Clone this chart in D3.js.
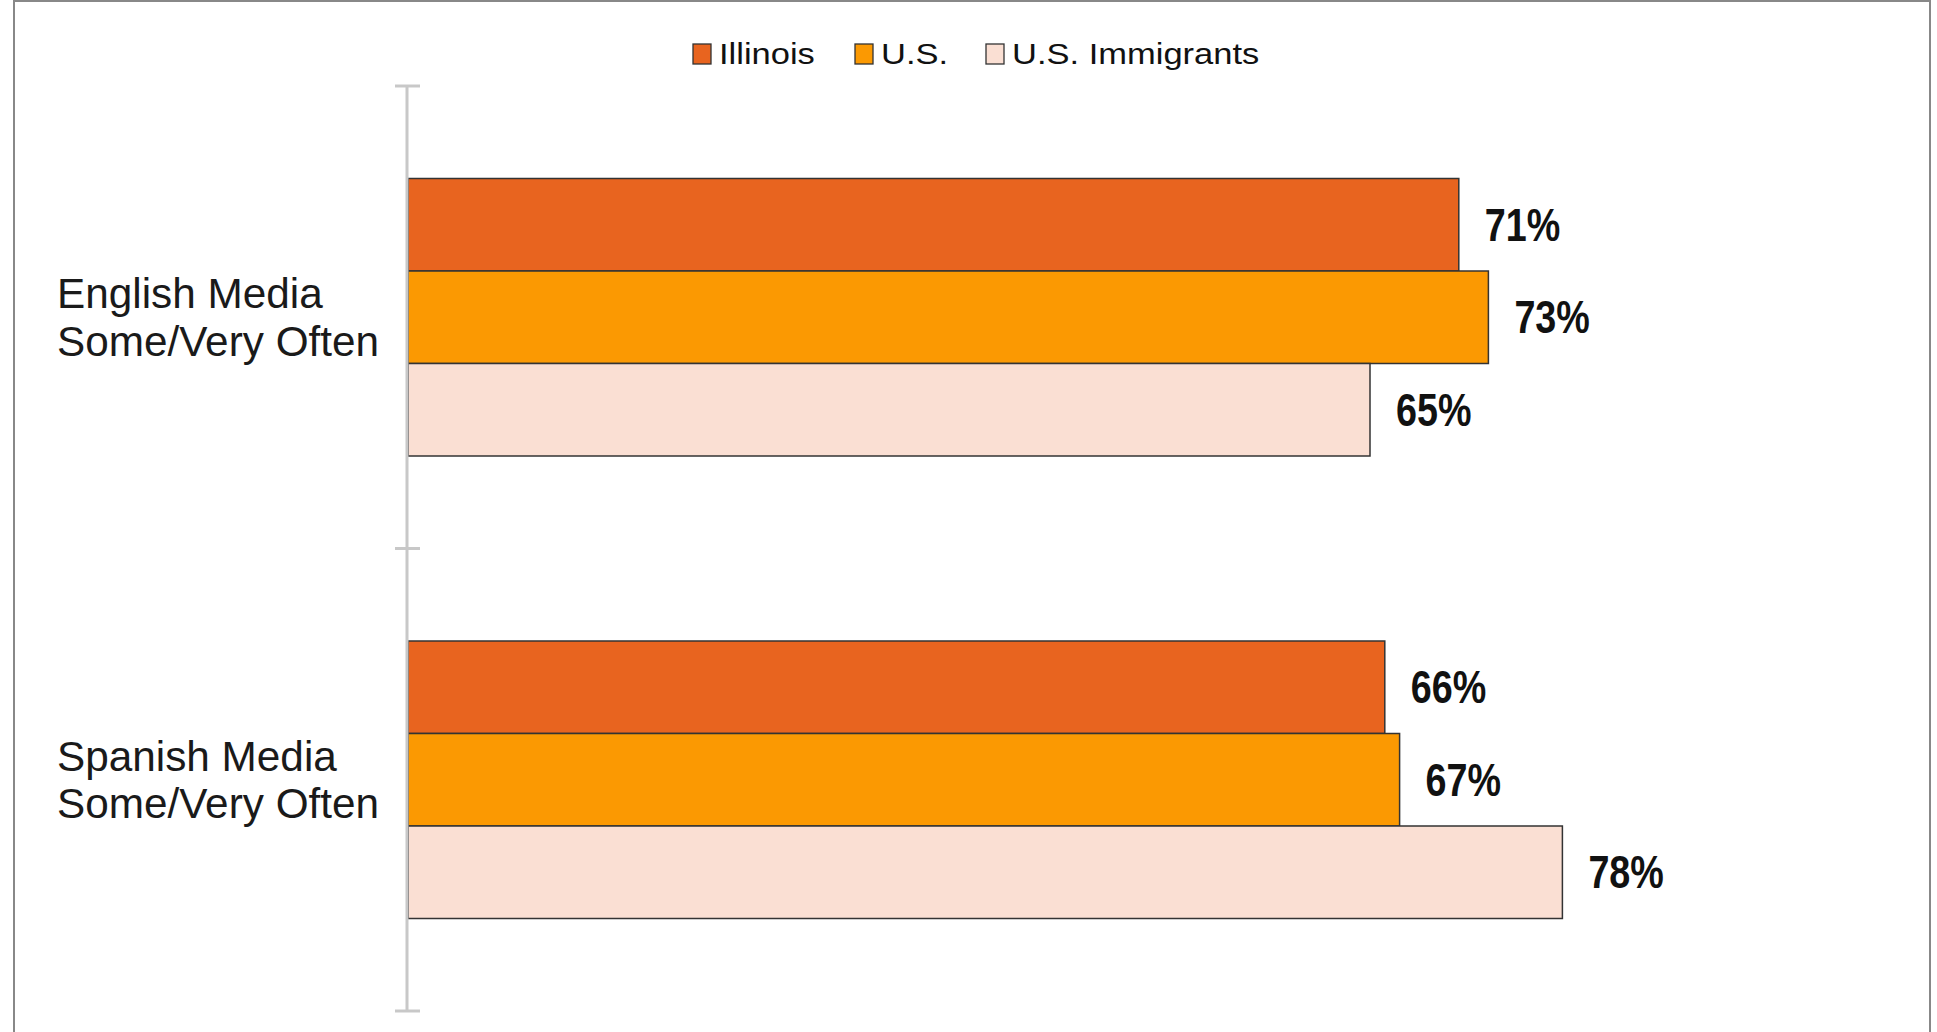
<!DOCTYPE html>
<html>
<head>
<meta charset="utf-8">
<script src="https://cdn.jsdelivr.net/npm/d3@7"></script>
<style>
  body { margin: 0; background: #fff; }
  svg { display: block; }
</style>
</head>
<body>
<script>
// Data
const categories = ["English Media|Some/Very Often", "Spanish Media|Some/Very Often"];
const seriesNames = ["Illinois", "U.S.", "U.S. Immigrants"];
const illinoisValues = [71, 66];
const usValues = [73, 67];
const immigrantValues = [65, 78];
const seriesColors = ["#E8641F", "#FB9902", "#FADFD3"];

const width = 1937;
const height = 1032;
const font = "'Liberation Sans', Arial, sans-serif";

const rows = categories.map((c, i) => ({
    category: c,
    values: [illinoisValues[i], usValues[i], immigrantValues[i]]
}));

// Scales
const x = d3.scaleLinear().domain([0, 100]).range([408, 1888]);
const y = d3.scaleBand().domain(categories).range([86, 1011]);
const y1 = d3.scaleBand().domain(seriesNames).range([0, y.bandwidth()]).paddingOuter(1);
const color = d3.scaleOrdinal().domain(seriesNames).range(seriesColors);

const svg = d3.select("body").append("svg")
    .attr("width", width)
    .attr("height", height);

// Outer frame
svg.append("rect")
    .attr("x", 14).attr("y", 1)
    .attr("width", 1916).attr("height", 1040)
    .attr("fill", "none")
    .attr("stroke", "#888")
    .attr("stroke-width", 2);

// Bars
const groups = svg.append("g")
    .selectAll("g")
    .data(rows)
    .join("g")
    .attr("transform", d => `translate(0,${y(d.category)})`);

groups.selectAll("rect")
    .data(d => d.values.map((v, i) => ({ key: seriesNames[i], value: v })))
    .join("rect")
    .attr("x", x(0))
    .attr("y", d => y1(d.key))
    .attr("width", d => x(d.value) - x(0))
    .attr("height", y1.bandwidth())
    .attr("fill", d => color(d.key))
    .attr("stroke", "#333")
    .attr("stroke-width", 1.5);

// Value labels (condensed bold, like the original)
groups.selectAll("text.value")
    .data(d => d.values.map((v, i) => ({ key: seriesNames[i], value: v })))
    .join("text")
    .attr("class", "value")
    .attr("transform", d => `translate(${x(d.value) + 26},${y1(d.key) + y1.bandwidth() / 2}) scale(0.82,1)`)
    .attr("dy", "0.35em")
    .attr("font-family", font)
    .attr("font-weight", "bold")
    .attr("font-size", 46)
    .attr("fill", "#111")
    .text(d => d.value + "%");

// Category axis (line with ticks at band edges)
const axis = svg.append("g").attr("stroke", "#c8c8c8").attr("stroke-width", 3);
axis.append("line")
    .attr("x1", 407).attr("x2", 407)
    .attr("y1", y.range()[0]).attr("y2", y.range()[1]);
const tickYs = categories.map(c => y(c)).concat([y.range()[1]]);
axis.selectAll("line.tick")
    .data(tickYs)
    .join("line")
    .attr("class", "tick")
    .attr("x1", 395).attr("x2", 420)
    .attr("y1", d => d).attr("y2", d => d);

// Category labels
svg.append("g")
    .selectAll("text")
    .data(categories)
    .join("text")
    .attr("x", 57)
    .attr("y", d => y(d) + y.bandwidth() / 2 - 9)
    .attr("font-family", font)
    .attr("font-size", 42.3)
    .attr("fill", "#1a1a1a")
    .selectAll("tspan")
    .data(d => d.split("|"))
    .join("tspan")
    .attr("x", 57)
    .attr("dy", (d, i) => i === 0 ? 0 : 47.5)
    .text(d => d);

// Legend
const legendX = [693, 855, 986];
const legend = svg.append("g")
    .selectAll("g")
    .data(seriesNames)
    .join("g")
    .attr("transform", (d, i) => `translate(${legendX[i]},44)`);

legend.append("rect")
    .attr("width", 18)
    .attr("height", 20)
    .attr("fill", d => color(d))
    .attr("stroke", "#333")
    .attr("stroke-width", 1.3);

legend.append("text")
    .attr("transform", "translate(26,20) scale(1.17,1)")
    .attr("font-family", font)
    .attr("font-size", 29.5)
    .attr("fill", "#111")
    .text(d => d);
</script>
</body>
</html>
